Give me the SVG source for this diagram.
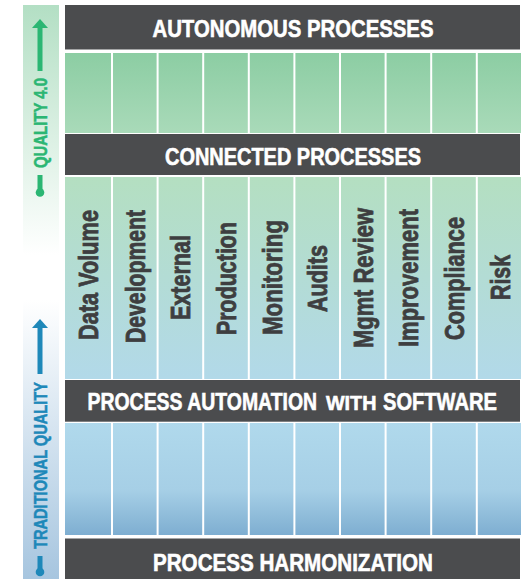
<svg xmlns="http://www.w3.org/2000/svg" width="521" height="579" viewBox="0 0 521 579">
<style>
.bar{fill:#4b4c4e}
.title{font-family:"Liberation Sans",Arial,sans-serif;font-weight:bold;fill:#ffffff;stroke:#ffffff;stroke-width:0.6px;font-size:24px}
.lbl{font-family:"Liberation Sans",Arial,sans-serif;font-weight:bold;fill:#3e3e40;stroke:#3e3e40;stroke-width:0.8px;font-size:27px;text-anchor:middle}
.side{font-family:"Liberation Sans",Arial,sans-serif;font-weight:bold;font-size:18px;text-anchor:middle;stroke-width:0.5px}
.c1{fill:url(#g1)}
.c2{fill:url(#g2)}
.c3{fill:url(#g3)}
</style>
<defs>
<linearGradient id="g1" x1="0" y1="0" x2="0" y2="1"><stop offset="0" stop-color="#8ccda3"/><stop offset="1" stop-color="#a9dab9"/></linearGradient>
<linearGradient id="g2" x1="0" y1="0" x2="0" y2="1"><stop offset="0" stop-color="#b4dfc1"/><stop offset="1" stop-color="#b2d9e9"/></linearGradient>
<linearGradient id="g3" x1="0" y1="0" x2="0" y2="1"><stop offset="0" stop-color="#b0d9ec"/><stop offset="0.6" stop-color="#a6cfe6"/><stop offset="1" stop-color="#7eaed1"/></linearGradient>
<linearGradient id="gs1" x1="0" y1="0" x2="0" y2="1"><stop offset="0" stop-color="#b3dfc4"/><stop offset="1" stop-color="#ffffff"/></linearGradient>
<linearGradient id="gs2" x1="0" y1="0" x2="0" y2="1"><stop offset="0" stop-color="#ffffff"/><stop offset="1" stop-color="#a6c5df"/></linearGradient>
</defs>
<rect width="521" height="579" fill="#ffffff"/>

<g id="side-quality40">
<rect x="23" y="5" width="36" height="250" fill="url(#gs1)"/>
<polygon points="40,19 48,28 32,28" fill="#2bb673"/>
<rect x="37.5" y="27" width="5" height="44" fill="#2bb673"/>
<rect x="37.5" y="175" width="5" height="17" fill="#2bb673"/>
<circle cx="40" cy="192.5" r="4.3" fill="#2bb673"/>
<text class="side" fill="#2bb673" stroke="#2bb673" transform="translate(40,123) rotate(-90)" y="6.7" textLength="90" lengthAdjust="spacingAndGlyphs">QUALITY 4.0</text>
</g>

<g id="side-traditional">
<rect x="23" y="300" width="36" height="279" fill="url(#gs2)"/>
<polygon points="40,319 48,328 32,328" fill="#1e88b9"/>
<rect x="37.5" y="327" width="5" height="47" fill="#1e88b9"/>
<rect x="37.5" y="556" width="5" height="16" fill="#1e88b9"/>
<circle cx="40" cy="572" r="4.3" fill="#1e88b9"/>
<text class="side" fill="#1e88b9" stroke="#1e88b9" transform="translate(40,465.5) rotate(-90)" y="6.7" textLength="167" lengthAdjust="spacingAndGlyphs">TRADITIONAL QUALITY</text>
</g>

<g id="row-autonomous-cells">
<rect class="c1" x="65" y="53" width="46" height="80"/>
<rect class="c1" x="113" y="53" width="43.6" height="80"/>
<rect class="c1" x="158.6" y="53" width="43.6" height="80"/>
<rect class="c1" x="204.2" y="53" width="43.6" height="80"/>
<rect class="c1" x="249.8" y="53" width="43.6" height="80"/>
<rect class="c1" x="295.4" y="53" width="43.6" height="80"/>
<rect class="c1" x="341" y="53" width="43.6" height="80"/>
<rect class="c1" x="386.6" y="53" width="43.6" height="80"/>
<rect class="c1" x="432.2" y="53" width="43.6" height="80"/>
<rect class="c1" x="477.8" y="53" width="43.2" height="80"/>
</g>

<g id="row-connected-cells">
<rect class="c2" x="65" y="177" width="46" height="202"/>
<rect class="c2" x="113" y="177" width="43.6" height="202"/>
<rect class="c2" x="158.6" y="177" width="43.6" height="202"/>
<rect class="c2" x="204.2" y="177" width="43.6" height="202"/>
<rect class="c2" x="249.8" y="177" width="43.6" height="202"/>
<rect class="c2" x="295.4" y="177" width="43.6" height="202"/>
<rect class="c2" x="341" y="177" width="43.6" height="202"/>
<rect class="c2" x="386.6" y="177" width="43.6" height="202"/>
<rect class="c2" x="432.2" y="177" width="43.6" height="202"/>
<rect class="c2" x="477.8" y="177" width="43.2" height="202"/>
</g>

<g id="row-automation-cells">
<rect class="c3" x="65" y="423" width="46" height="112"/>
<rect class="c3" x="113" y="423" width="43.6" height="112"/>
<rect class="c3" x="158.6" y="423" width="43.6" height="112"/>
<rect class="c3" x="204.2" y="423" width="43.6" height="112"/>
<rect class="c3" x="249.8" y="423" width="43.6" height="112"/>
<rect class="c3" x="295.4" y="423" width="43.6" height="112"/>
<rect class="c3" x="341" y="423" width="43.6" height="112"/>
<rect class="c3" x="386.6" y="423" width="43.6" height="112"/>
<rect class="c3" x="432.2" y="423" width="43.6" height="112"/>
<rect class="c3" x="477.8" y="423" width="43.2" height="112"/>
</g>

<g id="bar-autonomous">
<rect class="bar" x="65" y="5" width="455" height="44.5"/>
<text class="title" x="293" y="37" text-anchor="middle" textLength="281" lengthAdjust="spacingAndGlyphs">AUTONOMOUS PROCESSES</text>
</g>
<g id="bar-connected">
<rect class="bar" x="65" y="134" width="455" height="41"/>
<text class="title" x="293" y="165" text-anchor="middle" textLength="256" lengthAdjust="spacingAndGlyphs">CONNECTED PROCESSES</text>
</g>
<g id="bar-automation">
<rect class="bar" x="65" y="380" width="455" height="41.7"/>
<text class="title" transform="translate(87.5,410) scale(0.81,1)">PROCESS AUTOMATION</text>
<text class="title" transform="translate(326,410) scale(0.94,1)" style="font-size:21px">WITH</text>
<text class="title" transform="translate(383,410) scale(0.8375,1)">SOFTWARE</text>
</g>
<g id="bar-harmonization">
<rect class="bar" x="65" y="538.5" width="455" height="40.5"/>
<text class="title" x="293" y="571" text-anchor="middle" textLength="280" lengthAdjust="spacingAndGlyphs">PROCESS HARMONIZATION</text>
</g>

<g id="labels">
<text class="lbl" transform="translate(88,275) rotate(-90)" y="10" textLength="130" lengthAdjust="spacingAndGlyphs">Data Volume</text>
<text class="lbl" transform="translate(134.8,276.5) rotate(-90)" y="10" textLength="133" lengthAdjust="spacingAndGlyphs">Development</text>
<text class="lbl" transform="translate(180.4,277.5) rotate(-90)" y="10" textLength="85" lengthAdjust="spacingAndGlyphs">External</text>
<text class="lbl" transform="translate(226,278.5) rotate(-90)" y="10" textLength="113" lengthAdjust="spacingAndGlyphs">Production</text>
<text class="lbl" transform="translate(271.6,277.5) rotate(-90)" y="10" textLength="115" lengthAdjust="spacingAndGlyphs">Monitoring</text>
<text class="lbl" transform="translate(317.2,278.5) rotate(-90)" y="10" textLength="67" lengthAdjust="spacingAndGlyphs">Audits</text>
<text class="lbl" transform="translate(362.8,278) rotate(-90)" y="10" textLength="140" lengthAdjust="spacingAndGlyphs">Mgmt Review</text>
<text class="lbl" transform="translate(408.4,278) rotate(-90)" y="10" textLength="138" lengthAdjust="spacingAndGlyphs">Improvement</text>
<text class="lbl" transform="translate(454,278.5) rotate(-90)" y="10" textLength="123" lengthAdjust="spacingAndGlyphs">Compliance</text>
<text class="lbl" transform="translate(499.5,277.5) rotate(-90)" y="10" textLength="45" lengthAdjust="spacingAndGlyphs">Risk</text>
</g>
</svg>
